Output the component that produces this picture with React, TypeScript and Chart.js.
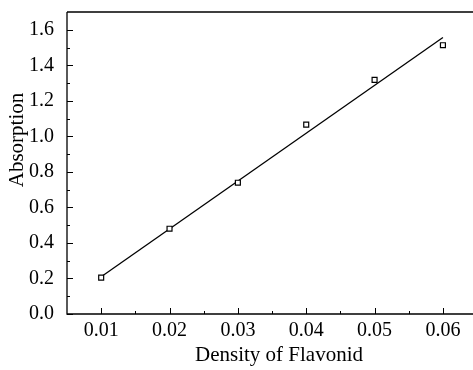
import React, { useEffect, useRef } from "react";
import { Chart, registerables } from "chart.js";

Chart.register(...registerables);

const densities = [0.01, 0.02, 0.03, 0.04, 0.05, 0.06];
const absorption = [0.205, 0.48, 0.739, 1.066, 1.318, 1.513];
const fitX = [0.01, 0.06];
const fitY = [0.21, 1.556];
const xTickValues = [0.01, 0.02, 0.03, 0.04, 0.05, 0.06];
const xMinorValues = [0.015, 0.025, 0.035, 0.045, 0.055];
const yTickValues = [0, 0.2, 0.4, 0.6, 0.8, 1.0, 1.2, 1.4, 1.6];
const yMinorValues = [0.1, 0.3, 0.5, 0.7, 0.9, 1.1, 1.3, 1.5];
const xTitle = "Density of Flavonid";
const yTitle = "Absorption";

const FONT = "'Liberation Serif', 'Times New Roman', serif";

const framePlugin = {
  id: "frame",
  afterDraw(chart: any) {
    const ctx = chart.ctx;
    const { left, top, bottom } = chart.chartArea;
    const xs = chart.scales.x;
    const ys = chart.scales.y;
    ctx.save();
    ctx.strokeStyle = "#000";
    ctx.lineWidth = 1.3;
    ctx.beginPath();
    ctx.moveTo(left, top);
    ctx.lineTo(left, bottom);
    ctx.lineTo(chart.width, bottom);
    ctx.moveTo(left, top);
    ctx.lineTo(chart.width, top);
    ctx.stroke();
    ctx.lineWidth = 1;
    ctx.beginPath();
    xTickValues.forEach((v) => {
      const px = Math.round(xs.getPixelForValue(v)) + 0.5;
      ctx.moveTo(px, bottom);
      ctx.lineTo(px, bottom - 6);
    });
    xMinorValues.forEach((v) => {
      const px = Math.round(xs.getPixelForValue(v)) + 0.5;
      ctx.moveTo(px, bottom);
      ctx.lineTo(px, bottom - 3);
    });
    yTickValues.forEach((v) => {
      const py = Math.round(ys.getPixelForValue(v)) + 0.5;
      ctx.moveTo(left, py);
      ctx.lineTo(left + 6, py);
    });
    yMinorValues.forEach((v) => {
      const py = Math.round(ys.getPixelForValue(v)) + 0.5;
      ctx.moveTo(left, py);
      ctx.lineTo(left + 3, py);
    });
    ctx.stroke();

    ctx.fillStyle = "#000";
    ctx.font = `21px ${FONT}`;
    ctx.textAlign = "center";
    ctx.textBaseline = "middle";
    ctx.fillText(xTitle, 279, 355);
    ctx.translate(17, 140);
    ctx.rotate(-Math.PI / 2);
    ctx.fillText(yTitle, 0, 0);
    ctx.restore();
  },
};

export default function App() {
  const ref = useRef<HTMLCanvasElement>(null);
  useEffect(() => {
    if (!ref.current) return;
    const chart = new Chart(ref.current, {
      type: "scatter",
      data: {
        datasets: [
          {
            label: "fit",
            data: fitX.map((x, i) => ({ x, y: fitY[i] })),
            showLine: true,
            borderColor: "#000",
            borderWidth: 1.3,
            pointRadius: 0,
            order: 2,
          },
          {
            label: "data",
            data: densities.map((x, i) => ({ x, y: absorption[i] })),
            showLine: false,
            pointStyle: "rect",
            pointRadius: 3.5,
            borderColor: "#000",
            borderWidth: 1.2,
            backgroundColor: "#fff",
            order: 1,
          },
        ],
      },
      options: {
        responsive: false,
        animation: false,
        layout: { autoPadding: false, padding: { top: 12, right: 0, left: 0, bottom: 0 } },
        plugins: { legend: { display: false }, tooltip: { enabled: false } },
        scales: {
          x: {
            type: "linear",
            min: 0.005,
            max: 0.0644,
            grid: { display: false },
            border: { display: false },
            afterBuildTicks: (s: any) => {
              s.ticks = xTickValues.map((v) => ({ value: v }));
            },
            afterFit: (s: any) => {
              s.height = 56;
              s.paddingLeft = 0;
              s.paddingRight = 0;
            },
            ticks: {
              color: "#000",
              padding: -3,
              font: { family: FONT, size: 20 },
              callback: (v: any) => Number(v).toFixed(2),
            },
          },
          y: {
            type: "linear",
            min: 0,
            max: 1.7,
            grid: { display: false },
            border: { display: false },
            afterBuildTicks: (s: any) => {
              s.ticks = yTickValues.map((v) => ({ value: v }));
            },
            afterFit: (s: any) => {
              s.width = 67;
              s.paddingTop = 0;
              s.paddingBottom = 0;
            },
            ticks: {
              color: "#000",
              padding: 5,
              font: { family: FONT, size: 20 },
              callback: (v: any) => Number(v).toFixed(1),
            },
          },
        },
      },
      plugins: [framePlugin],
    });
    return () => chart.destroy();
  }, []);
  return (
    <div style={{ position: "fixed", left: 0, top: 0, width: 473, height: 370, background: "#fff" }}>
      <canvas ref={ref} width={473} height={370} style={{ display: "block" }} />
    </div>
  );
}
